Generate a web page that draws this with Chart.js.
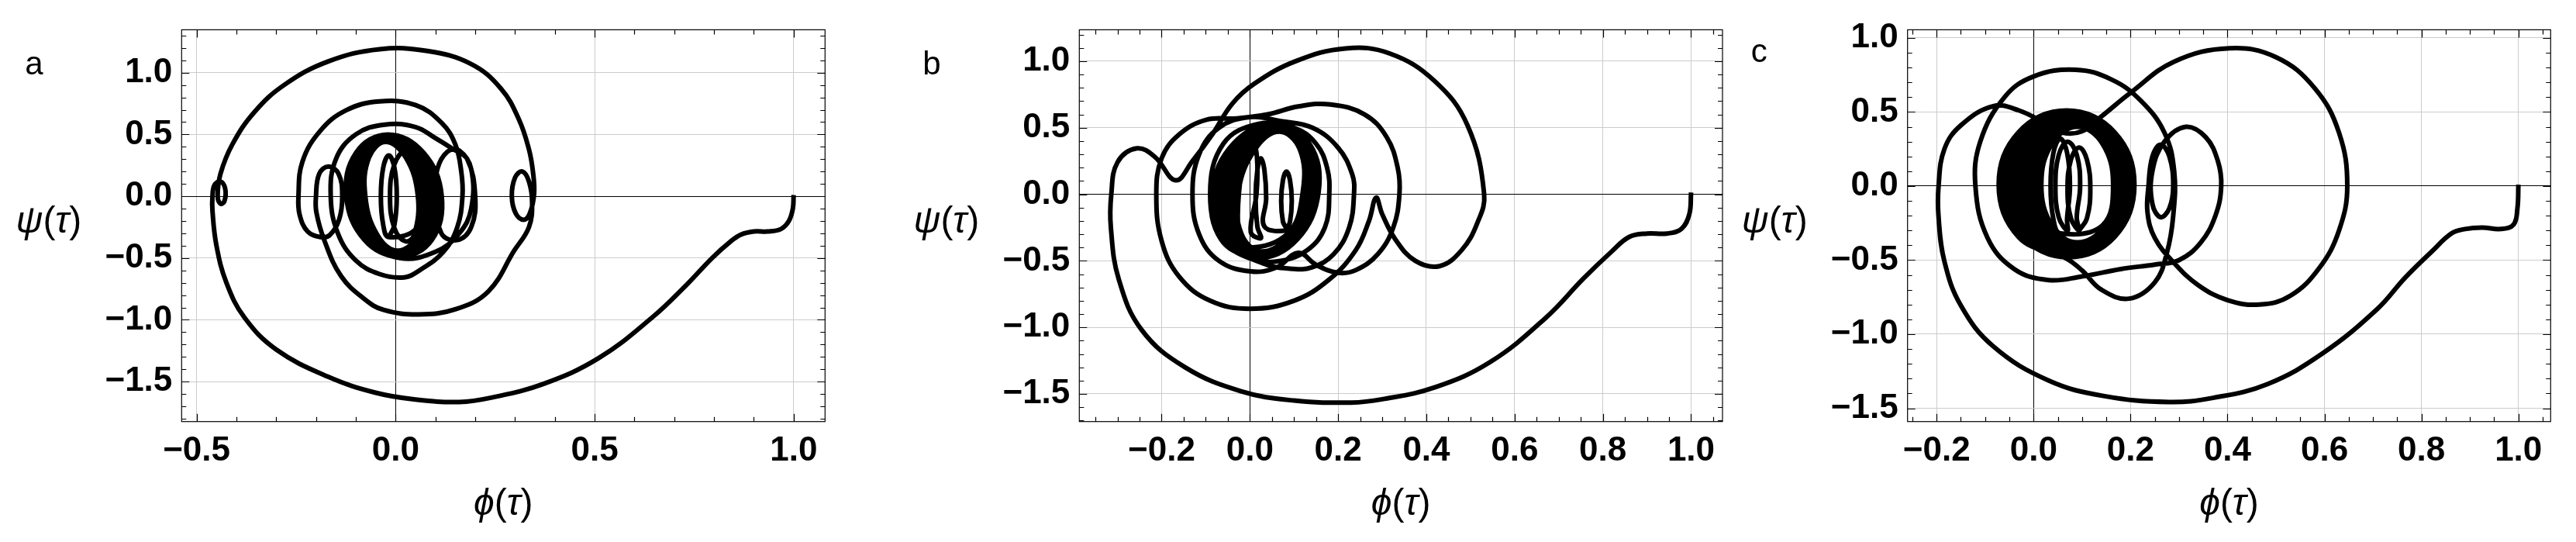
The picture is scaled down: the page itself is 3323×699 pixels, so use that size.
<!DOCTYPE html>
<html>
<head>
<meta charset="utf-8">
<script src="https://cdn.jsdelivr.net/npm/chart.js"></script>
<style>
  html, body { margin: 0; padding: 0; background: #fff; }
  #wrap { position: relative; width: 3323px; height: 699px; overflow: hidden; background: #fff; }
  canvas { position: absolute; top: 0; }
</style>
</head>
<body>
<div id="wrap">
  <canvas id="chartA" width="1100" height="699" style="left:0px"></canvas>
  <canvas id="chartB" width="1140" height="699" style="left:1100px"></canvas>
  <canvas id="chartC" width="1083" height="699" style="left:2240px"></canvas>
</div>
<script>
// tick labels
var xTicksA = [-0.5, 0, 0.5, 1];
var xTicksBC = [-0.2, 0, 0.2, 0.4, 0.6, 0.8, 1];
var yTicks = [-1.5, -1, -0.5, 0, 0.5, 1];

// panel a : phi, psi pairs
var orbitA = [[1.0,0.01],[0.998,-0.1],[0.988,-0.2],[0.968,-0.265],[0.935,-0.285],[0.9,-0.285],[0.868,-0.31],[0.84,-0.37],[0.795,-0.5],[0.73,-0.72],[0.645,-0.98],[0.51,-1.31],[0.37,-1.52],[0.24,-1.63],[0.16,-1.665],[0.05,-1.645],[-0.05,-1.59],[-0.17,-1.46],[-0.3,-1.24],[-0.38,-0.98],[-0.425,-0.7],[-0.45,-0.4],[-0.46,-0.12],[-0.46,0.0],[-0.455,0.09],[-0.44,0.12],[-0.428,0.06],[-0.43,-0.04],[-0.44,-0.06],[-0.447,0.0],[-0.44,0.18],[-0.41,0.42],[-0.355,0.68],[-0.28,0.9],[-0.17,1.09],[-0.04,1.19],[0.08,1.175],[0.19,1.07],[0.265,0.87],[0.31,0.62],[0.335,0.38],[0.345,0.2],[0.348,0.02],[0.337,-0.14],[0.322,-0.19],[0.302,-0.14],[0.292,0.0],[0.3,0.15],[0.318,0.2],[0.335,0.12],[0.343,-0.05],[0.335,-0.25],[0.298,-0.44],[0.233,-0.77],[0.15,-0.915],[0.058,-0.956],[-0.03,-0.92],[-0.079,-0.83],[-0.137,-0.646],[-0.179,-0.357],[-0.199,-0.13],[-0.2,0.0],[-0.192,0.18],[-0.169,0.24],[-0.143,0.18],[-0.134,0.0],[-0.142,-0.19],[-0.166,-0.316],[-0.189,-0.33],[-0.221,-0.285],[-0.241,-0.15],[-0.244,0.0],[-0.234,0.28],[-0.189,0.53],[-0.124,0.696],[-0.04,0.768],[0.051,0.737],[0.116,0.592],[0.15,0.42],[0.165,0.2],[0.168,0.0],[0.155,-0.25],[0.12,-0.45],[0.06,-0.6],[0.022,-0.656],[-0.04,-0.63],[-0.1,-0.52],[-0.145,-0.3],[-0.163,0.0],[-0.15,0.3],[-0.1,0.5],[-0.027,0.58],[0.05,0.56],[0.1,0.47],[0.142,0.386],[0.18,0.3],[0.2,0.0],[0.19,-0.25],[0.155,-0.355],[0.115,-0.3],[0.1,0.0],[0.105,0.22],[0.13,0.36],[0.16,0.37],[0.19,0.22],[0.19,-0.1],[0.16,-0.3],[0.1,-0.45]];
var coreA = [
  [0.011,-0.5],[-0.078,-0.354],[-0.124,0],[-0.099,0.354],[-0.019,0.5],[0.070,0.354],[0.116,0],[0.091,-0.354],
  [0.010,-0.49],[-0.073,-0.346],[-0.116,0],[-0.094,0.346],[-0.020,0.49],[0.063,0.346],[0.106,0],[0.084,-0.346],
  [0.009,-0.48],[-0.068,-0.339],[-0.108,0],[-0.089,0.339],[-0.021,0.48],[0.056,0.339],[0.096,0],[0.077,-0.339],
  [0.008,-0.47],[-0.062,-0.332],[-0.100,0],[-0.083,0.332],[-0.022,0.47],[0.048,0.332],[0.086,0],[0.069,-0.332],
  [0.007,-0.46],[-0.057,-0.325],[-0.092,0],[-0.078,0.325],[-0.023,0.46],[0.041,0.325],[0.076,0],[0.062,-0.325],
  [0.006,-0.45],[-0.052,-0.318],[-0.084,0],[-0.073,0.318],[-0.024,0.45],[0.033,0.318],[0.066,0],[0.055,-0.318],
  [0.005,-0.44],[-0.046,-0.311],[-0.076,0],[-0.067,0.311],[-0.025,0.44],[0.026,0.311],[0.056,0],[0.047,-0.311],
  [0.025,-0.365],[-0.003,-0.258],[-0.014,0],[-0.003,0.258],[0.025,0.365],[0.053,0.258],[0.064,0],[0.053,-0.258],
  [-0.017,-0.33],[-0.031,-0.233],[-0.037,0],[-0.031,0.233],[-0.017,0.33],[-0.003,0.233],[0.003,0],[-0.003,-0.233],[-0.017,-0.33]
];

// panel b
var orbitB = [[1.0,0.013],[0.996,-0.15],[0.978,-0.26],[0.945,-0.295],[0.9,-0.295],[0.86,-0.32],[0.82,-0.43],[0.757,-0.63],[0.67,-0.93],[0.545,-1.26],[0.42,-1.45],[0.3,-1.54],[0.23,-1.565],[0.1,-1.55],[-0.02,-1.48],[-0.147,-1.3],[-0.245,-1.02],[-0.297,-0.64],[-0.315,-0.25],[-0.314,0.0],[-0.3,0.24],[-0.256,0.345],[-0.215,0.28],[-0.168,0.105],[-0.13,0.25],[-0.085,0.45],[-0.04,0.68],[0.01,0.83],[0.104,1.0],[0.217,1.096],[0.317,1.058],[0.418,0.853],[0.493,0.52],[0.531,0.0],[0.515,-0.22],[0.48,-0.42],[0.43,-0.54],[0.375,-0.5],[0.33,-0.34],[0.3,-0.15],[0.286,-0.025],[0.27,-0.2],[0.24,-0.42],[0.18,-0.64],[0.1,-0.8],[0.0,-0.86],[-0.09,-0.8],[-0.16,-0.62],[-0.2,-0.35],[-0.212,0.0],[-0.2,0.27],[-0.16,0.45],[-0.098,0.56],[-0.03,0.57],[0.04,0.6],[0.11,0.66],[0.183,0.675],[0.26,0.6],[0.31,0.43],[0.335,0.2],[0.339,0.0],[0.325,-0.25],[0.29,-0.45],[0.24,-0.57],[0.2,-0.59],[0.15,-0.53],[0.11,-0.44],[0.06,-0.55],[0.002,-0.58],[-0.07,-0.5],[-0.115,-0.3],[-0.13,0.0],[-0.115,0.3],[-0.07,0.5],[0.0,0.58],[0.07,0.55],[0.142,0.5],[0.2,0.35],[0.232,0.15],[0.236,0.0],[0.225,-0.25],[0.19,-0.45],[0.14,-0.55],[0.095,-0.56],[0.03,-0.52],[-0.06,-0.35],[-0.09,0.0],[-0.06,0.38],[0.02,0.53],[0.1,0.5],[0.15,0.38],[0.175,0.2],[0.18,0.0],[0.17,-0.25],[0.13,-0.42],[0.07,-0.5]];
var coreB = [
  [0.015,-0.49],[-0.065,-0.341],[-0.086,0.02],[-0.037,0.381],[0.055,0.53],[0.135,0.381],[0.156,0.02],[0.107,-0.341],
  [0.017,-0.48],[-0.057,-0.334],[-0.076,0.02],[-0.029,0.374],[0.057,0.52],[0.131,0.374],[0.150,0.02],[0.103,-0.334],
  [0.019,-0.47],[-0.049,-0.326],[-0.066,0.02],[-0.021,0.366],[0.059,0.51],[0.127,0.366],[0.144,0.02],[0.099,-0.326],
  [0.021,-0.46],[-0.042,-0.319],[-0.056,0.02],[-0.014,0.359],[0.061,0.50],[0.124,0.359],[0.138,0.02],[0.096,-0.319],
  [0.023,-0.45],[-0.034,-0.312],[-0.046,0.02],[-0.006,0.352],[0.063,0.49],[0.120,0.352],[0.132,0.02],[0.092,-0.312],
  [0.025,-0.44],[-0.026,-0.305],[-0.036,0.02],[0.002,0.345],[0.065,0.48],[0.116,0.345],[0.126,0.02],[0.088,-0.305],
  [0.027,-0.43],[-0.019,-0.298],[-0.026,0.02],[0.012,0.338],[0.067,0.47],[0.113,0.338],[0.120,0.02],[0.085,-0.298],
  [-0.015,-0.4],[-0.026,-0.283],[-0.025,0],[-0.012,0.283],[0.005,0.4],[0.016,0.283],[0.015,0],[0.002,-0.283],
  [0.025,-0.33],[0.017,-0.242],[0.013,-0.03],[0.017,0.182],[0.025,0.27],[0.033,0.182],[0.037,-0.03],[0.033,-0.242],
  [0.083,-0.27],[0.075,-0.206],[0.071,-0.05],[0.075,0.106],[0.083,0.17],[0.091,0.106],[0.095,-0.05],[0.091,-0.206],[0.083,-0.27]
];

// panel c
var orbitC = [[1.0,0.01],[0.998,-0.15],[0.99,-0.26],[0.964,-0.29],[0.925,-0.28],[0.89,-0.29],[0.862,-0.32],[0.822,-0.44],[0.766,-0.62],[0.709,-0.83],[0.596,-1.13],[0.483,-1.336],[0.37,-1.43],[0.279,-1.458],[0.144,-1.417],[0.031,-1.313],[-0.083,-1.083],[-0.15,-0.807],[-0.184,-0.508],[-0.196,-0.21],[-0.196,0.0],[-0.184,0.25],[-0.15,0.41],[-0.083,0.54],[-0.03,0.51],[0.02,0.43],[0.06,0.36],[0.1,0.37],[0.14,0.47],[0.2,0.63],[0.29,0.84],[0.404,0.93],[0.5,0.87],[0.58,0.66],[0.63,0.36],[0.647,0.0],[0.63,-0.3],[0.59,-0.55],[0.53,-0.74],[0.466,-0.8],[0.4,-0.77],[0.34,-0.67],[0.29,-0.52],[0.25,-0.35],[0.235,-0.18],[0.237,0.0],[0.245,0.2],[0.262,0.28],[0.28,0.2],[0.288,0.0],[0.28,-0.15],[0.262,-0.21],[0.245,-0.12],[0.245,0.1],[0.27,0.3],[0.314,0.40],[0.355,0.33],[0.38,0.17],[0.387,0.0],[0.375,-0.2],[0.345,-0.38],[0.3,-0.5],[0.25,-0.53],[0.18,-0.56],[0.1,-0.61],[0.031,-0.635],[-0.04,-0.56],[-0.095,-0.35],[-0.12,0.0],[-0.11,0.3],[-0.06,0.6],[0.0,0.74],[0.087,0.785],[0.16,0.72],[0.22,0.58],[0.27,0.36],[0.29,0.1],[0.288,-0.2],[0.275,-0.45],[0.25,-0.65],[0.197,-0.76],[0.14,-0.7],[0.1,-0.57]];
var coreC = [
  [0.068,-0.49],[-0.031,-0.344],[-0.072,0.01],[-0.031,0.364],[0.068,0.51],[0.167,0.364],[0.208,0.01],[0.167,-0.344],
  [0.070,-0.48],[-0.025,-0.336],[-0.064,0.01],[-0.025,0.356],[0.070,0.50],[0.165,0.356],[0.204,0.01],[0.165,-0.336],
  [0.072,-0.47],[-0.019,-0.329],[-0.056,0.01],[-0.019,0.349],[0.072,0.49],[0.163,0.349],[0.200,0.01],[0.163,-0.329],
  [0.074,-0.46],[-0.012,-0.322],[-0.048,0.01],[-0.012,0.342],[0.074,0.48],[0.160,0.342],[0.196,0.01],[0.160,-0.322],
  [0.076,-0.45],[-0.006,-0.315],[-0.040,0.01],[-0.006,0.335],[0.076,0.47],[0.158,0.335],[0.192,0.01],[0.158,-0.315],
  [0.078,-0.44],[0.000,-0.308],[-0.032,0.01],[0.000,0.328],[0.078,0.46],[0.156,0.328],[0.188,0.01],[0.156,-0.308],
  [0.080,-0.43],[0.007,-0.301],[-0.024,0.01],[0.007,0.321],[0.080,0.45],[0.154,0.321],[0.184,0.01],[0.154,-0.301],
  [0.082,-0.42],[0.013,-0.294],[-0.016,0.01],[0.013,0.314],[0.082,0.44],[0.151,0.314],[0.180,0.01],[0.151,-0.294],
  [0.084,-0.41],[0.019,-0.287],[-0.008,0.01],[0.019,0.307],[0.084,0.43],[0.149,0.307],[0.176,0.01],[0.149,-0.287],
  [0.086,-0.40],[0.025,-0.28],[0.000,0.01],[0.025,0.30],[0.086,0.42],[0.147,0.30],[0.172,0.01],[0.147,-0.28],
  [0.088,-0.39],[0.031,-0.273],[0.008,0.01],[0.031,0.293],[0.088,0.41],[0.145,0.293],[0.168,0.01],[0.145,-0.273],
  [0.090,-0.38],[0.038,-0.266],[0.016,0.01],[0.038,0.286],[0.090,0.40],[0.142,0.286],[0.164,0.01],[0.142,-0.266],
  [0.055,-0.32],[0.041,-0.226],[0.035,0],[0.041,0.226],[0.055,0.32],[0.069,0.226],[0.075,0],[0.069,-0.226],
  [0.070,-0.30],[0.052,-0.212],[0.045,0],[0.052,0.212],[0.070,0.30],[0.089,0.212],[0.096,0],[0.089,-0.212],
  [0.094,-0.30],[0.077,-0.218],[0.070,-0.02],[0.077,0.178],[0.094,0.26],[0.110,0.178],[0.117,-0.02],[0.110,-0.218],[0.094,-0.30]
];

var FONT = '"Liberation Sans", Arial, sans-serif';

function fmt(v) {
  return (v < 0 ? '\u2212' : '') + Math.abs(v).toFixed(1);
}

function toPoints(a, b) {
  return a.concat(b).map(function (p) { return { x: p[0], y: p[1] }; });
}

// small ticks every step, long ones where the scale has a labelled tick
function frameTicks(scale, step) {
  var out = [];
  var i0 = Math.ceil(scale.min / step - 1e-9), i1 = Math.floor(scale.max / step + 1e-9);
  for (var i = i0; i <= i1; i++) {
    var v = i * step;
    var major = scale.ticks.some(function (t) { return Math.abs(t.value - v) < 1e-6; });
    out.push({ v: v, major: major });
  }
  return out;
}

function drawParts(ctx, parts, x, y) {
  parts.forEach(function (p) {
    ctx.font = p[1];
    ctx.fillText(p[0], x, y);
    x += ctx.measureText(p[0]).width;
  });
}
function partsWidth(ctx, parts) {
  var w = 0;
  parts.forEach(function (p) { ctx.font = p[1]; w += ctx.measureText(p[0]).width; });
  return w;
}

var framePlugin = {
  id: 'frame',
  afterDatasetsDraw: function (chart, args, opts) {
    var ctx = chart.ctx, a = chart.chartArea, sx = chart.scales.x, sy = chart.scales.y;
    ctx.save();
    ctx.strokeStyle = '#000';
    ctx.lineWidth = 1.2;
    ctx.strokeRect(a.left, a.top, a.right - a.left, a.bottom - a.top);
    ctx.beginPath();
    frameTicks(sx, opts.xStep).forEach(function (t) {
      var px = Math.round(sx.getPixelForValue(t.v)) + 0.5, len = t.major ? 10 : 6;
      ctx.moveTo(px, a.bottom); ctx.lineTo(px, a.bottom - len);
      ctx.moveTo(px, a.top); ctx.lineTo(px, a.top + len);
    });
    frameTicks(sy, opts.yStep).forEach(function (t) {
      var py = Math.round(sy.getPixelForValue(t.v)) + 0.5, len = t.major ? 10 : 6;
      ctx.moveTo(a.left, py); ctx.lineTo(a.left + len, py);
      ctx.moveTo(a.right, py); ctx.lineTo(a.right - len, py);
    });
    ctx.stroke();

    // axis titles and panel letter
    var it = 'italic 48px ' + FONT, up = '48px ' + FONT;
    ctx.fillStyle = '#000';
    ctx.textBaseline = 'alphabetic';
    ctx.textAlign = 'left';
    var yl = [['\u03c8', it], ['(', up], ['\u03c4', it], [')', up]];
    drawParts(ctx, yl, a.left - 129 - partsWidth(ctx, yl), 300);
    var xl = [['\u03d5', it], ['(', up], ['\u03c4', it], [')', up]];
    drawParts(ctx, xl, (a.left + a.right) / 2 - partsWidth(ctx, xl) / 2, 664);
    ctx.font = '42px ' + FONT;
    ctx.fillText(opts.letter, a.left - 202, opts.letterY);
    ctx.restore();
  }
};

function makePanel(id, pts, xr, yr, xt, xStep, yAxisW, padRight, letter, letterY) {
  var ctx = document.getElementById(id).getContext('2d');
  return new Chart(ctx, {
    type: 'scatter',
    data: {
      datasets: [{
        data: pts,
        showLine: true,
        borderColor: '#000',
        borderWidth: 6,
        pointRadius: 0,
        tension: 0.4,
        fill: false
      }]
    },
    options: {
      responsive: false,
      animation: false,
      devicePixelRatio: 1,
      layout: { padding: { left: 0, right: padRight, top: 31.7, bottom: 0 } },
      plugins: {
        legend: { display: false },
        tooltip: { enabled: false },
        frame: { xStep: xStep, yStep: 0.1, letter: letter, letterY: letterY }
      },
      scales: {
        x: {
          type: 'linear', min: xr[0], max: xr[1],
          afterBuildTicks: function (s) { s.ticks = xt.map(function (v) { return { value: v }; }); },
          afterFit: function (s) { s.height = 155.3; },
          border: { display: false },
          grid: {
            drawTicks: false, lineWidth: 1,
            color: function (c) { return c.tick && c.tick.value === 0 ? '#000' : '#cccccc'; }
          },
          ticks: {
            autoSkip: false, maxRotation: 0, padding: 12, color: '#000',
            font: { family: FONT, size: 44, weight: 'bold', lineHeight: 1.2 },
            callback: function (v) { return fmt(v); }
          }
        },
        y: {
          type: 'linear', min: yr[0], max: yr[1],
          afterBuildTicks: function (s) { s.ticks = yTicks.map(function (v) { return { value: v }; }); },
          afterFit: function (s) { s.width = yAxisW; },
          border: { display: false },
          grid: {
            drawTicks: false, lineWidth: 1,
            color: function (c) { return c.tick && c.tick.value === 0 ? '#000' : '#cccccc'; }
          },
          ticks: {
            autoSkip: false, padding: 12, color: '#000',
            font: { family: FONT, size: 44, weight: 'bold', lineHeight: 1.2 },
            callback: function (v) { return fmt(v); }
          }
        }
      }
    },
    plugins: [framePlugin]
  });
}

makePanel('chartA', toPoints(orbitA, coreA), [-0.5375, 1.0789], [-1.8233, 1.347], xTicksA, 0.1, 234.3, 35.7, 'a', 96);
makePanel('chartB', toPoints(orbitB, coreB), [-0.3865, 1.0712], [-1.708, 1.236], xTicksBC, 0.05, 292.3, 18, 'b', 96);
makePanel('chartC', toPoints(orbitC, coreC), [-0.26, 1.0665], [-1.59, 1.055], xTicksBC, 0.05, 220.7, 32.7, 'c', 80);
</script>
</body>
</html>
